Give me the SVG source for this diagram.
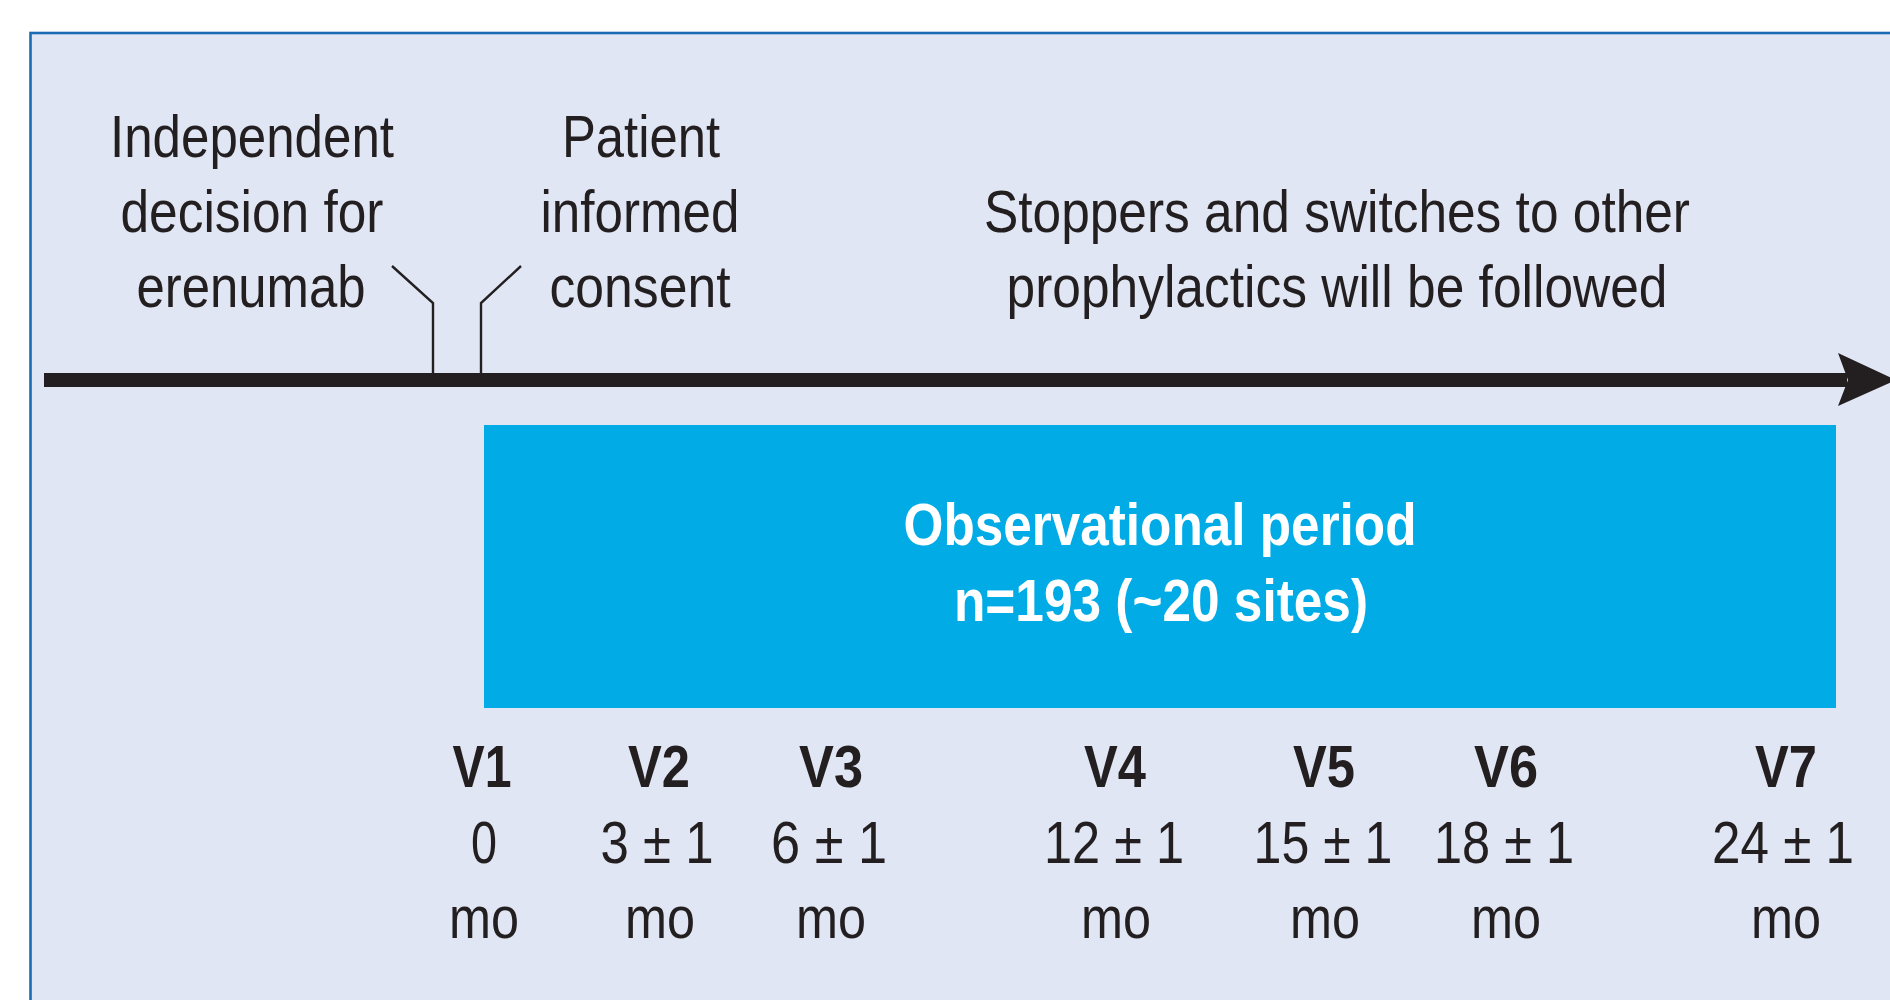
<svg xmlns="http://www.w3.org/2000/svg" width="1890" height="1000" viewBox="0 0 1890 1000">
  <style>
    .t { font-family: "Liberation Sans Narrow", "Liberation Sans", Arial, sans-serif; font-size: 60px; fill: #231f20; text-anchor: middle; }
    .b { font-weight: bold; }
    .w { fill: #ffffff; font-weight: bold; }
    .tick { fill: none; stroke: #231f20; stroke-width: 2.4; stroke-linejoin: miter; }
  </style>
  <rect x="0" y="0" width="1890" height="1000" fill="#ffffff"/>

  <!-- panel background -->
  <rect id="panel" x="30.5" y="33" width="1900" height="1000" fill="#e0e6f4" stroke="#1b6ab5" stroke-width="2.6"/>

  <!-- timeline axis and event ticks -->
  <g id="connectors">
    <rect x="44" y="373" width="1803" height="14" fill="#231f20"/>
    <polygon points="1838,353 1848,380 1838,406 1896,380" fill="#231f20"/>
    <polyline class="tick" points="392,266 433,303 433,374"/>
    <polyline class="tick" points="521,266 481,303 481,374"/>
  </g>

  <g id="decision">
    <text class="t" x="252" y="157" textLength="284" lengthAdjust="spacingAndGlyphs">Independent</text>
    <text class="t" x="252" y="232" textLength="263" lengthAdjust="spacingAndGlyphs">decision for</text>
    <text class="t" x="251" y="307" textLength="229" lengthAdjust="spacingAndGlyphs">erenumab</text>
  </g>

  <g id="consent">
    <text class="t" x="641" y="157" textLength="158" lengthAdjust="spacingAndGlyphs">Patient</text>
    <text class="t" x="640" y="232" textLength="199" lengthAdjust="spacingAndGlyphs">informed</text>
    <text class="t" x="640" y="307" textLength="181" lengthAdjust="spacingAndGlyphs">consent</text>
  </g>

  <g id="followup-note">
    <text class="t" x="1337" y="232" textLength="706" lengthAdjust="spacingAndGlyphs">Stoppers and switches to other</text>
    <text class="t" x="1337" y="307" textLength="661" lengthAdjust="spacingAndGlyphs">prophylactics will be followed</text>
  </g>

  <g id="observational-period">
    <rect x="484" y="425" width="1352" height="283" fill="#00abe6"/>
    <text class="t w" x="1160" y="545" textLength="513" lengthAdjust="spacingAndGlyphs">Observational period</text>
    <text class="t w" x="1161" y="621" textLength="414" lengthAdjust="spacingAndGlyphs">n=193 (~20 sites)</text>
  </g>

  <g id="v1">
    <text class="t b" x="482" y="787" textLength="59" lengthAdjust="spacingAndGlyphs">V1</text>
    <text class="t" x="484" y="863" textLength="26" lengthAdjust="spacingAndGlyphs">0</text>
    <text class="t" x="484" y="938" textLength="70" lengthAdjust="spacingAndGlyphs">mo</text>
  </g>
  <g id="v2">
    <text class="t b" x="659" y="787" textLength="62" lengthAdjust="spacingAndGlyphs">V2</text>
    <text class="t" x="657" y="863" textLength="113" lengthAdjust="spacingAndGlyphs">3 ± 1</text>
    <text class="t" x="660" y="938" textLength="70" lengthAdjust="spacingAndGlyphs">mo</text>
  </g>
  <g id="v3">
    <text class="t b" x="831" y="787" textLength="64" lengthAdjust="spacingAndGlyphs">V3</text>
    <text class="t" x="829" y="863" textLength="116" lengthAdjust="spacingAndGlyphs">6 ± 1</text>
    <text class="t" x="831" y="938" textLength="70" lengthAdjust="spacingAndGlyphs">mo</text>
  </g>
  <g id="v4">
    <text class="t b" x="1115" y="787" textLength="62" lengthAdjust="spacingAndGlyphs">V4</text>
    <text class="t" x="1114" y="863" textLength="140" lengthAdjust="spacingAndGlyphs">12 ± 1</text>
    <text class="t" x="1116" y="938" textLength="70" lengthAdjust="spacingAndGlyphs">mo</text>
  </g>
  <g id="v5">
    <text class="t b" x="1324" y="787" textLength="62" lengthAdjust="spacingAndGlyphs">V5</text>
    <text class="t" x="1323" y="863" textLength="139" lengthAdjust="spacingAndGlyphs">15 ± 1</text>
    <text class="t" x="1325" y="938" textLength="70" lengthAdjust="spacingAndGlyphs">mo</text>
  </g>
  <g id="v6">
    <text class="t b" x="1506" y="787" textLength="64" lengthAdjust="spacingAndGlyphs">V6</text>
    <text class="t" x="1504" y="863" textLength="140" lengthAdjust="spacingAndGlyphs">18 ± 1</text>
    <text class="t" x="1506" y="938" textLength="70" lengthAdjust="spacingAndGlyphs">mo</text>
  </g>
  <g id="v7">
    <text class="t b" x="1786" y="787" textLength="62" lengthAdjust="spacingAndGlyphs">V7</text>
    <text class="t" x="1783" y="863" textLength="142" lengthAdjust="spacingAndGlyphs">24 ± 1</text>
    <text class="t" x="1786" y="938" textLength="70" lengthAdjust="spacingAndGlyphs">mo</text>
  </g>
</svg>
